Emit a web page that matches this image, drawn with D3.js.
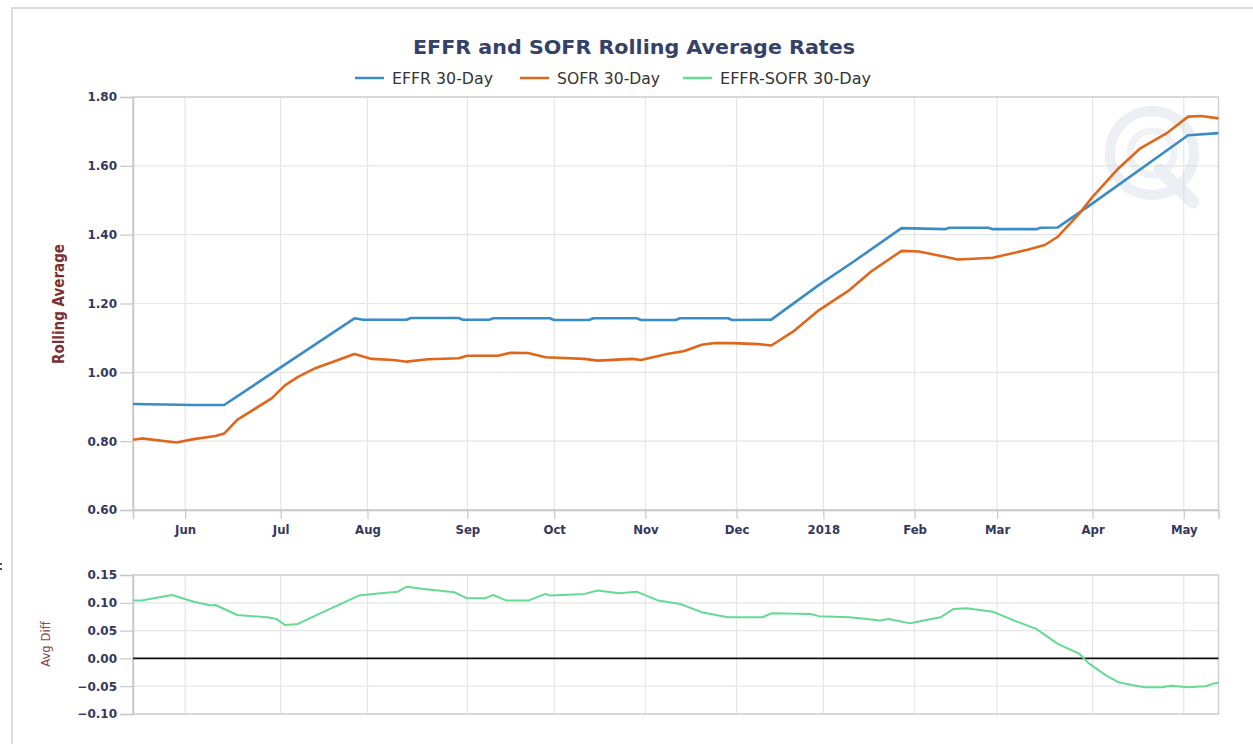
<!DOCTYPE html>
<html><head><meta charset="utf-8">
<script src="https://cdn.jsdelivr.net/npm/d3@7"></script>
<style>html,body{margin:0;padding:0;background:#fff;overflow:hidden}</style>
</head><body>
<svg id="chart" width="1253" height="744"></svg>
<script>
// ---------- DATA ----------
const startDate = "2017-05-15";
const endDate = "2018-05-11";
const holidays = ["2017-05-29","2017-07-04","2017-09-04","2017-10-09","2017-11-23","2017-12-25","2018-01-01","2018-01-15","2018-02-19"];
const monthTickLabels = ["Jun","Jul","Aug","Sep","Oct","Nov","Dec","2018","Feb","Mar","Apr","May"];
const rateTicks = [0.6,0.8,1.0,1.2,1.4,1.6,1.8];
const diffTicks = [-0.10,-0.05,0.00,0.05,0.10,0.15];
const seriesNames = ["EFFR 30-Day","SOFR 30-Day","EFFR-SOFR 30-Day"];

const effr = [["2017-05-15",0.908],["2017-05-31",0.906],["2017-06-02",0.905],["2017-06-14",0.905],["2017-07-27",1.157],["2017-07-31",1.153],["2017-08-14",1.153],["2017-08-15",1.158],["2017-08-30",1.158],["2017-08-31",1.153],["2017-09-11",1.153],["2017-09-12",1.157],["2017-09-29",1.157],["2017-10-02",1.152],["2017-10-13",1.152],["2017-10-16",1.157],["2017-10-30",1.157],["2017-10-31",1.152],["2017-11-10",1.152],["2017-11-13",1.157],["2017-11-29",1.157],["2017-11-30",1.152],["2017-12-13",1.153],["2017-12-29",1.254],["2018-01-11",1.322],["2018-01-29",1.419],["2018-02-12",1.416],["2018-02-13",1.420],["2018-02-27",1.420],["2018-02-28",1.416],["2018-03-14",1.416],["2018-03-15",1.420],["2018-03-21",1.421],["2018-04-02",1.491],["2018-05-02",1.689],["2018-05-11",1.695]];

const sofr = [["2017-05-15",0.804],["2017-05-17",0.808],["2017-05-30",0.796],["2017-06-05",0.806],["2017-06-12",0.815],["2017-06-14",0.822],["2017-06-19",0.862],["2017-06-29",0.925],["2017-07-05",0.962],["2017-07-10",0.987],["2017-07-14",1.012],["2017-07-27",1.053],["2017-08-02",1.039],["2017-08-09",1.036],["2017-08-14",1.031],["2017-08-21",1.038],["2017-08-30",1.041],["2017-09-01",1.048],["2017-09-13",1.048],["2017-09-18",1.057],["2017-09-22",1.056],["2017-09-28",1.044],["2017-10-12",1.039],["2017-10-17",1.034],["2017-10-27",1.039],["2017-10-31",1.036],["2017-11-08",1.053],["2017-11-14",1.062],["2017-11-20",1.080],["2017-11-24",1.085],["2017-11-30",1.085],["2017-12-08",1.082],["2017-12-13",1.078],["2017-12-20",1.118],["2017-12-29",1.181],["2018-01-10",1.239],["2018-01-18",1.293],["2018-01-29",1.353],["2018-02-02",1.351],["2018-02-12",1.336],["2018-02-15",1.328],["2018-02-28",1.333],["2018-03-12",1.356],["2018-03-16",1.370],["2018-03-21",1.394],["2018-03-28",1.462],["2018-04-02",1.510],["2018-04-10",1.593],["2018-04-17",1.651],["2018-04-25",1.694],["2018-05-02",1.743],["2018-05-07",1.745],["2018-05-11",1.738]];

const diff = [["2017-05-15",0.104],["2017-05-17",0.104],["2017-05-23",0.110],["2017-05-26",0.114],["2017-06-05",0.102],["2017-06-09",0.095],["2017-06-12",0.096],["2017-06-19",0.078],["2017-06-28",0.074],["2017-06-30",0.071],["2017-07-05",0.060],["2017-07-10",0.062],["2017-07-14",0.077],["2017-07-21",0.095],["2017-07-28",0.113],["2017-08-04",0.117],["2017-08-10",0.120],["2017-08-14",0.129],["2017-08-18",0.125],["2017-08-29",0.119],["2017-09-01",0.108],["2017-09-08",0.108],["2017-09-12",0.114],["2017-09-15",0.104],["2017-09-22",0.104],["2017-09-28",0.116],["2017-09-29",0.113],["2017-10-12",0.116],["2017-10-17",0.122],["2017-10-24",0.117],["2017-10-30",0.120],["2017-11-06",0.104],["2017-11-13",0.098],["2017-11-20",0.083],["2017-11-29",0.074],["2017-12-11",0.074],["2017-12-13",0.081],["2017-12-27",0.080],["2017-12-29",0.076],["2018-01-10",0.074],["2018-01-17",0.071],["2018-01-22",0.068],["2018-01-24",0.071],["2018-01-31",0.063],["2018-02-05",0.068],["2018-02-09",0.074],["2018-02-14",0.089],["2018-02-20",0.090],["2018-02-28",0.084],["2018-03-07",0.068],["2018-03-14",0.053],["2018-03-21",0.026],["2018-03-28",0.008],["2018-03-30",-0.008],["2018-04-05",-0.030],["2018-04-10",-0.043],["2018-04-13",-0.048],["2018-04-18",-0.052],["2018-04-24",-0.052],["2018-04-26",-0.049],["2018-05-02",-0.052],["2018-05-08",-0.050],["2018-05-10",-0.045],["2018-05-11",-0.044]];

// ---------- LAYOUT ----------
const fmt = d3.utcFormat("%Y-%m-%d");
const parse = d3.utcParse("%Y-%m-%d");
const hol = new Set(holidays);
const bizDays = d3.utcDay.range(parse(startDate), d3.utcDay.offset(parse(endDate), 1))
  .filter(d => d.getUTCDay() !== 0 && d.getUTCDay() !== 6 && !hol.has(fmt(d)));
const idxOf = new Map(bizDays.map((d, i) => [fmt(d), i]));
const monthStarts = [];
bizDays.forEach((d, i) => { if (i > 0 && d.getUTCMonth() !== bizDays[i-1].getUTCMonth()) monthStarts.push(i); });

const svg = d3.select("#chart");
const L = 133, R = 1218.5;
const top1 = 97, bot1 = 510;
const top2 = 575, bot2 = 714;

const x = d3.scaleLinear().domain([0, bizDays.length - 1]).range([L, R]);
const y1 = d3.scaleLinear().domain([0.6, 1.8]).range([bot1, top1]);
const y2 = d3.scaleLinear().domain([-0.10, 0.15]).range([bot2, top2]);

const colors = ["#3a8cc6", "#e0661c", "#66da92"];
const labelColor = "#35375e";
const font = "DejaVu Sans, Verdana, sans-serif";
const condensed = "DejaVu Sans Condensed, DejaVu Sans, sans-serif";

// outer frame
svg.append("rect").attr("x", 12).attr("y", 8).attr("width", 1400).attr("height", 900)
  .attr("fill", "#fff").attr("stroke", "#dcdcdc").attr("stroke-width", 2);
svg.append("rect").attr("x", 0).attr("y", 563).attr("width", 2).attr("height", 2).attr("fill", "#555");
svg.append("rect").attr("x", 0).attr("y", 568).attr("width", 2).attr("height", 2).attr("fill", "#555");

// title
svg.append("text").attr("x", 634).attr("y", 54).attr("text-anchor", "middle")
  .attr("font-family", font).attr("font-weight", "bold").attr("font-size", 20)
  .attr("fill", "#34426a").attr("textLength", 442).attr("lengthAdjust", "spacingAndGlyphs")
  .text("EFFR and SOFR Rolling Average Rates");

// legend
const legendItems = [
  {x: 355, w: 101},
  {x: 520, w: 103},
  {x: 683, w: 151}
];
legendItems.forEach((it, i) => {
  const g = svg.append("g");
  g.append("line").attr("x1", it.x).attr("x2", it.x + 29).attr("y1", 78).attr("y2", 78)
    .attr("stroke", colors[i]).attr("stroke-width", 2.5);
  g.append("text").attr("x", it.x + 37).attr("y", 84)
    .attr("font-family", condensed).attr("font-size", 15).attr("fill", "#333")
    .attr("textLength", it.w).attr("lengthAdjust", "spacingAndGlyphs")
    .text(seriesNames[i]);
});

function panel(yScale, ticks, top, bot, fmtTick) {
  const g = svg.append("g");
  g.selectAll(".hg").data(ticks).join("line")
    .attr("x1", L).attr("x2", R).attr("y1", d => yScale(d)).attr("y2", d => yScale(d))
    .attr("stroke", "#e6e6e6").attr("stroke-width", 1.2);
  g.selectAll(".vg").data(monthStarts).join("line")
    .attr("x1", d => x(d)).attr("x2", d => x(d)).attr("y1", top).attr("y2", bot)
    .attr("stroke", "#e6e6e6").attr("stroke-width", 1.2);
  g.append("rect").attr("x", L).attr("y", top).attr("width", R - L).attr("height", bot - top)
    .attr("fill", "none").attr("stroke", "#d0d0d0").attr("stroke-width", 1.5);
  const ax = d3.axisLeft(yScale).tickValues(ticks).tickFormat(fmtTick).tickSize(13).tickPadding(3);
  const ag = svg.append("g").attr("transform", `translate(${L},0)`).call(ax);
  ag.select(".domain").attr("stroke", "#c8c8c8").attr("stroke-width", 1.5);
  ag.selectAll(".tick line").attr("stroke", "#c8c8c8").attr("stroke-width", 1.2);
  ag.selectAll(".tick text").attr("font-family", font).attr("font-weight", "bold")
    .attr("font-size", 12).attr("fill", labelColor);
  return g;
}

panel(y1, rateTicks, top1, bot1, d3.format(".2f"));
panel(y2, diffTicks, top2, bot2, d3.format(".2f"));

// x axis (top panel)
const xa = d3.axisBottom(x).tickValues(monthStarts)
  .tickFormat((d, i) => monthTickLabels[i]).tickSize(9).tickPadding(6);
const xg = svg.append("g").attr("transform", `translate(0,${bot1})`).call(xa);
xg.select(".domain").attr("stroke", "#c8c8c8").attr("stroke-width", 1.5);
xg.selectAll(".tick line").attr("stroke", "#c8c8c8").attr("stroke-width", 1.2);
xg.selectAll(".tick text").attr("font-family", condensed).attr("font-weight", "bold")
  .attr("font-size", 13).attr("fill", labelColor);

// watermark
const wm = svg.append("g").attr("opacity", 0.4);
wm.append("circle").attr("cx", 1152).attr("cy", 153).attr("r", 42)
  .attr("fill", "none").attr("stroke", "#d0d9e3").attr("stroke-width", 10);
wm.append("circle").attr("cx", 1152).attr("cy", 153).attr("r", 22)
  .attr("fill", "none").attr("stroke", "#dae1e9").attr("stroke-width", 7);
wm.append("line").attr("x1", 1160).attr("y1", 170).attr("x2", 1193).attr("y2", 202)
  .attr("stroke", "#d0d9e3").attr("stroke-width", 13).attr("stroke-linecap", "round");

// axis titles
svg.append("text").attr("transform", "translate(64,304) rotate(-90)").attr("text-anchor", "middle")
  .attr("font-family", condensed).attr("font-weight", "bold").attr("font-size", 15)
  .attr("fill", "#7b3030").text("Rolling Average");
svg.append("text").attr("transform", "translate(50,644) rotate(-90)").attr("text-anchor", "middle")
  .attr("font-family", condensed).attr("font-size", 13)
  .attr("fill", "#8a4a4a").text("Avg Diff");

// lines
const line1 = d3.line().x(d => x(idxOf.get(d[0]))).y(d => y1(d[1]));
const line2 = d3.line().x(d => x(idxOf.get(d[0]))).y(d => y2(d[1]));
svg.append("path").datum(effr).attr("d", line1).attr("fill", "none")
  .attr("stroke", colors[0]).attr("stroke-width", 2.6).attr("stroke-linejoin", "round");
svg.append("path").datum(sofr).attr("d", line1).attr("fill", "none")
  .attr("stroke", colors[1]).attr("stroke-width", 2.6).attr("stroke-linejoin", "round");

svg.append("line").attr("x1", L).attr("x2", R).attr("y1", y2(0)).attr("y2", y2(0))
  .attr("stroke", "#111").attr("stroke-width", 1.8);
svg.append("path").datum(diff).attr("d", line2).attr("fill", "none")
  .attr("stroke", colors[2]).attr("stroke-width", 2).attr("stroke-linejoin", "round");
</script>
</body></html>
